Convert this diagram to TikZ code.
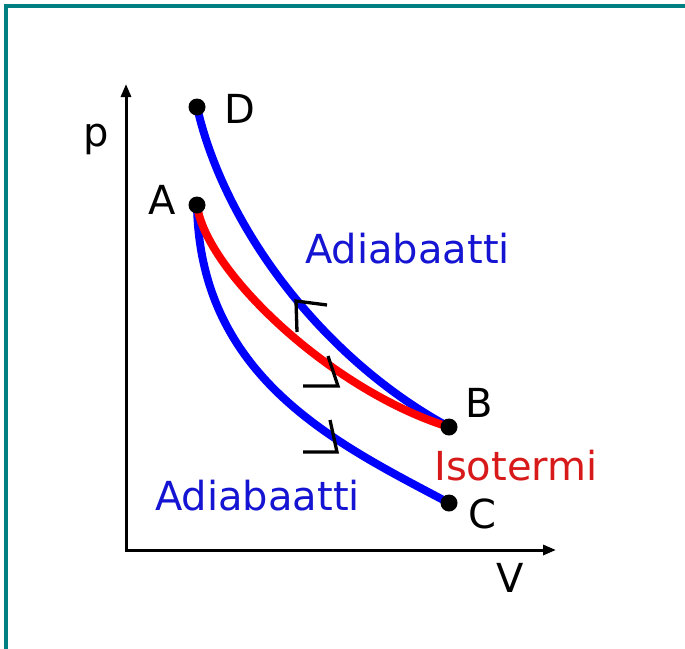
\documentclass[tikz,border=0pt]{standalone}
\usepackage{fontspec}
\setmainfont{DejaVu Sans}
\usetikzlibrary{arrows.meta}
\definecolor{teal0}{RGB}{0,128,128}
\definecolor{cblue}{RGB}{0,0,255}
\definecolor{cred}{RGB}{255,0,0}
\definecolor{tblue}{RGB}{20,20,210}
\definecolor{tred}{RGB}{215,25,25}
\begin{document}
\begin{tikzpicture}[x=1pt,y=-1pt,
  curve/.style={line width=8pt},
  axis/.style={line width=3pt,line cap=rect,-{Triangle[length=13pt,width=10pt]}},
  dot/.style={circle,fill=black,inner sep=0pt,minimum size=17pt},
  lab/.style={anchor=base west,inner sep=0pt,font=\fontsize{40}{48}\selectfont},
  chev/.style={line width=3.3pt}]
\useasboundingbox (0,0) rectangle (685,648);
\draw[teal0,line width=4pt] (6.3,670) -- (6.3,6.3) -- (700,6.3);
% axes
\coordinate (O) at (126,550);
\coordinate (Ytip) at (126,84);
\coordinate (Xtip) at (556,550);
\draw[axis] (O) -- (Ytip);
\draw[axis] (O) -- (Xtip);
% states
\coordinate (D) at (197,107);
\coordinate (A) at (197,205);
\coordinate (B) at (449,427);
\coordinate (C) at (449,503);
% curves
\draw[curve,cblue] (D) .. controls (225,230) and (325,360) .. (B);
\draw[curve,cblue] (A) .. controls (200,380) and (340,445) .. (C);
\draw[curve,cred] (A) .. controls (205,270) and (330,390) .. (B);
% direction chevrons
\coordinate (a1) at (296,301);
\coordinate (a2) at (338,386);
\coordinate (a3) at (337,452);
\draw[chev] ([shift={(31,4)}]a1) -- (a1) -- ([shift={(1,31)}]a1);
\draw[chev] ([shift={(-10,-30)}]a2) -- (a2) -- ([shift={(-35,0)}]a2);
\draw[chev] ([shift={(-7,-32)}]a3) -- (a3) -- ([shift={(-34,0)}]a3);
% dots
\node[dot] (dD) at (D) {};
\node[dot] (dA) at (A) {};
\node[dot] (dB) at (B) {};
\node[dot] (dC) at (C) {};
% labels
\node[lab] (lp) at (83,146) {p};
\node[lab] (lD) at (224,123) {D};
\node[lab] (lA) at (148,214) {A};
\node[lab] (lB) at (465,417) {B};
\node[lab] (lC) at (468,528) {C};
\node[lab] (lV) at (496,592) {V};
\node[lab,text=tblue] (ad1) at (305,263) {Adiabaatti};
\node[lab,text=tblue] (ad2) at (155,510) {Adiabaatti};
\node[lab,text=tred] (iso) at (434,480) {Isotermi};
\end{tikzpicture}
\end{document}
